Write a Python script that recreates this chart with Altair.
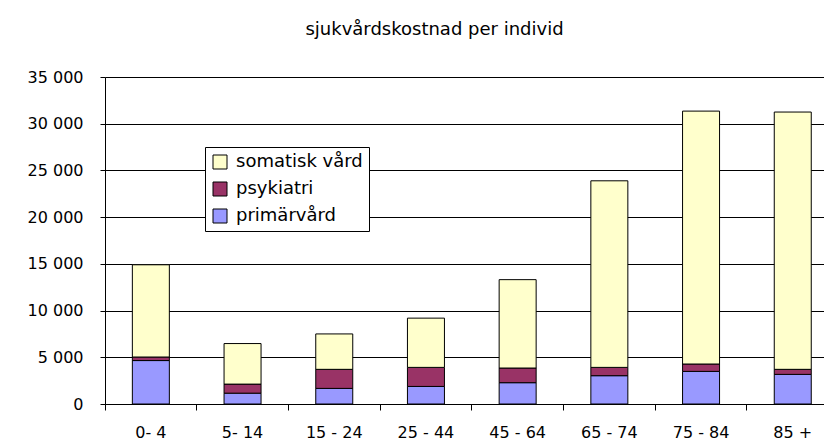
import altair as alt
import pandas as pd

categories = ["0- 4", "5- 14", "15 - 24", "25 - 44", "45 - 64", "65 - 74", "75 - 84", "85 +"]
primarvard = [4650, 1160, 1670, 1880, 2280, 3030, 3490, 3170]
psykiatri = [380, 970, 2040, 2040, 1570, 890, 790, 540]
somatisk = [9870, 4340, 3790, 5270, 9460, 19970, 27070, 27540]

series_names = ["somatisk vård", "psykiatri", "primärvård"]
series_colors = ["#FFFFCC", "#993366", "#9999FF"]

rows = []
for i, c in enumerate(categories):
    rows.append({"grupp": c, "serie": "primärvård", "värde": primarvard[i], "ord": 0})
    rows.append({"grupp": c, "serie": "psykiatri", "värde": psykiatri[i], "ord": 1})
    rows.append({"grupp": c, "serie": "somatisk vård", "värde": somatisk[i], "ord": 2})
df = pd.DataFrame(rows)

FONT = "DejaVu Sans"

chart = alt.Chart(df).mark_bar(size=37, stroke="black", strokeWidth=1).encode(
    x=alt.X("grupp:N", sort=categories, title=None,
            scale=alt.Scale(paddingInner=0, paddingOuter=0, range=[0, 733.6]),
            axis=alt.Axis(labelAngle=0, bandPosition=0, tickSize=6, tickColor="black",
                          domainColor="black", labelPadding=14, labelFontSize=16,
                          labelColor="black", labelFont=FONT, grid=False, labelBaseline="top")),
    y=alt.Y("värde:Q", stack="zero", title=None,
            scale=alt.Scale(domain=[0, 35000], nice=False),
            axis=alt.Axis(values=list(range(0, 35001, 5000)), tickSize=5, tickColor="black",
                          domainColor="black", labelPadding=17, labelFontSize=16,
                          labelColor="black", labelFont=FONT, gridColor="black",
                          gridOpacity=1, gridWidth=1,
                          labelExpr="replace(format(datum.value, ','), ',', ' ')")),
    color=alt.Color("serie:N", scale=alt.Scale(domain=series_names, range=series_colors),
                    legend=alt.Legend(title=None, orient="none", legendX=100, legendY=70,
                                      symbolType="square", symbolSize=196,
                                      symbolStrokeColor="black", symbolStrokeWidth=1,
                                      labelFontSize=18, labelFont=FONT, labelColor="black",
                                      fillColor="white", strokeColor="black", padding=6,
                                      rowPadding=9, labelOffset=7, symbolOffset=0)),
    order=alt.Order("ord:Q", sort="ascending"),
).properties(
    width=719,
    height=327,
    padding={"left": 97, "top": 69, "right": 0, "bottom": 37},
    autosize=alt.AutoSizeParams(type="none"),
    title=alt.TitleParams("sjukvårdskostnad per individ", font=FONT, fontSize=18,
                          fontWeight="normal", color="black", anchor="middle", dx=-30,
                          baseline="alphabetic", offset=16),
).configure_view(stroke=None).configure(background="white")

chart.save("out.html", embed_options={"renderer": "svg", "actions": False})
